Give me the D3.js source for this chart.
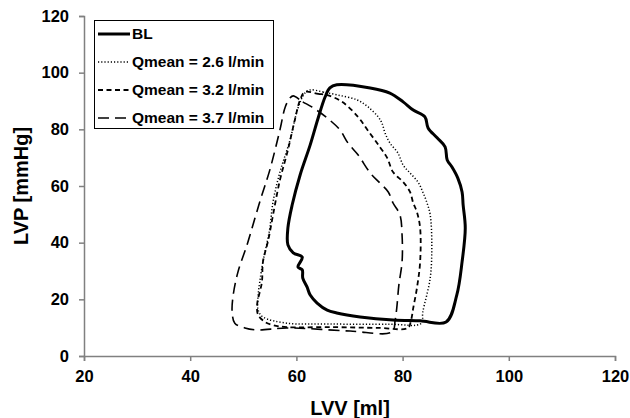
<!DOCTYPE html>
<html>
<head>
<meta charset="utf-8">
<script src="https://cdn.jsdelivr.net/npm/d3@7"></script>
<style>
  body { margin: 0; background: #fff; }
  text { font-family: "Liberation Sans", Arial, sans-serif; font-weight: bold; }
</style>
</head>
<body>
<svg width="630" height="418"></svg>
<script>
// LV pressure-volume loops, [volume ml, pressure mmHg]
const bl = [
  [88.2, 12.0], [90.2, 21.5], [91.2, 33.2], [91.8, 45.2], [91.4, 53.3], [91.2, 57.9],
  [90.4, 62.8], [89.3, 66.7], [88.4, 69.2], [88.0, 73.8], [86.5, 77.0], [84.8, 80.5],
  [84.2, 84.4], [82.0, 86.8], [80.1, 89.7], [77.6, 92.8], [73.9, 94.6], [67.6, 95.7],
  [66.3, 94.6], [65.4, 91.4], [64.1, 84.0], [62.6, 74.5], [60.7, 63.9], [59.2, 53.3],
  [58.4, 45.2], [58.4, 39.2], [59.4, 36.4], [61.1, 34.9], [60.3, 31.4], [61.1, 30.4],
  [61.2, 27.5], [62.0, 24.4], [62.6, 21.5], [63.9, 18.7], [65.8, 16.2], [67.6, 15.2],
  [72.0, 13.8], [78.2, 12.7], [83.3, 12.4]
];
const q26 = [
  [62.6, 93.9], [65.0, 93.2], [67.8, 92.1], [71.4, 90.4], [73.5, 87.9], [75.4, 84.4],
  [76.1, 82.2], [76.7, 78.7], [77.6, 75.2], [79.1, 71.7], [80.1, 67.4], [81.4, 64.6],
  [82.9, 61.4], [83.8, 57.9], [84.6, 54.0], [85.2, 49.8], [85.5, 39.2], [85.2, 27.5],
  [83.8, 15.5], [83.5, 11.5], [77.6, 11.2], [66.3, 11.3], [58.2, 11.6], [53.7, 13.8],
  [52.8, 16.2], [52.8, 21.5], [53.1, 26.1], [53.7, 33.2], [54.5, 40.2], [55.0, 45.2],
  [55.6, 54.4], [56.9, 64.9], [58.8, 76.2], [60.3, 87.5], [61.6, 92.8]
];
const q32 = [
  [61.6, 93.2], [64.1, 92.5], [65.8, 92.1], [68.6, 89.7], [71.6, 84.4], [73.5, 79.5],
  [75.7, 73.8], [77.1, 69.9], [78.2, 64.9], [80.1, 61.4], [81.4, 57.9], [82.0, 54.0],
  [82.7, 50.8], [83.3, 45.2], [83.3, 33.2], [82.7, 24.0], [82.0, 16.9], [81.6, 12.7],
  [81.0, 9.9], [75.7, 9.9], [66.3, 10.2], [58.2, 10.2], [55.6, 10.9], [54.1, 12.0],
  [52.8, 14.5], [52.6, 18.0], [53.5, 26.1], [53.7, 33.2], [54.7, 40.9], [55.6, 49.8],
  [56.9, 62.1], [58.4, 72.7], [59.7, 83.3], [60.7, 90.4]
];
const q37 = [
  [59.4, 91.8], [61.2, 89.7], [62.9, 87.9], [65.8, 84.0], [68.2, 79.8], [69.7, 75.2],
  [71.6, 71.0], [73.9, 64.6], [75.7, 61.1], [77.3, 57.9], [78.2, 54.0], [79.5, 49.8],
  [79.9, 42.7], [79.9, 33.2], [79.3, 25.1], [78.9, 16.9], [78.6, 12.7], [78.0, 8.5],
  [70.1, 8.8], [58.2, 9.9], [52.6, 9.2], [50.3, 9.9], [48.4, 11.6], [47.9, 15.5],
  [48.1, 21.5], [49.0, 29.7], [50.7, 39.2], [52.2, 48.7], [53.5, 56.8], [55.0, 65.7],
  [56.9, 79.8], [57.9, 87.9], [58.8, 91.1]
];

const seriesNames = ["BL", "Qmean = 2.6 l/min", "Qmean = 3.2 l/min", "Qmean = 3.7 l/min"];
const seriesData = [bl, q26, q32, q37];
const xTicks = [20, 40, 60, 80, 100, 120];
const yTicks = [0, 20, 40, 60, 80, 100, 120];

const styles = [
  { width: 3, dash: null },
  { width: 1.5, dash: "1.2,2" },
  { width: 1.8, dash: "5,3.5" },
  { width: 1.6, dash: "11,6" }
];

const svg = d3.select("svg");
const x = d3.scaleLinear().domain([20, 120]).range([84, 615]);
const y = d3.scaleLinear().domain([0, 120]).range([356, 16]);

const line = d3.line()
  .x(d => x(d[0]))
  .y(d => y(d[1]))
  .curve(d3.curveCatmullRomClosed.alpha(0.5));

// axes
const xAxis = svg.append("g")
  .attr("transform", "translate(0,356)")
  .call(d3.axisBottom(x).tickValues(xTicks).tickSize(5).tickPadding(9));
const yAxis = svg.append("g")
  .attr("transform", "translate(84,0)")
  .call(d3.axisLeft(y).tickValues(yTicks).tickSize(5).tickPadding(10));
[xAxis, yAxis].forEach(g => {
  g.select(".domain").attr("stroke", "#808080").attr("stroke-width", 1.5);
  g.selectAll(".tick line").attr("stroke", "#808080").attr("stroke-width", 1.5);
  g.selectAll(".tick text").attr("font-size", 16.5).attr("fill", "#000")
    .attr("font-family", "'Liberation Sans', Arial, sans-serif").attr("font-weight", "bold");
});

svg.append("text")
  .attr("x", 350).attr("y", 415)
  .attr("text-anchor", "middle").attr("font-size", 20)
  .text("LVV [ml]");
svg.append("text")
  .attr("transform", "translate(28,186) rotate(-90)")
  .attr("text-anchor", "middle").attr("font-size", 20)
  .text("LVP [mmHg]");

// loops
svg.append("g").selectAll("path")
  .data(seriesData).enter()
  .append("path")
  .attr("d", line)
  .attr("fill", "none")
  .attr("stroke", "#000")
  .attr("stroke-linejoin", "round")
  .attr("stroke-width", (d, i) => styles[i].width)
  .attr("stroke-dasharray", (d, i) => styles[i].dash);

// legend
const legend = svg.append("g");
legend.append("rect")
  .attr("x", 94.5).attr("y", 20.5).attr("width", 179).attr("height", 108)
  .attr("fill", "#fff").attr("stroke", "#000").attr("stroke-width", 1);
const items = legend.selectAll("g.item")
  .data(seriesNames).enter()
  .append("g")
  .attr("transform", (d, i) => `translate(0,${34 + i * 28})`);
items.append("line")
  .attr("x1", 98).attr("x2", 130)
  .attr("stroke", "#000")
  .attr("stroke-width", (d, i) => styles[i].width)
  .attr("stroke-dasharray", (d, i) => styles[i].dash);
items.append("text")
  .attr("x", 132).attr("dy", "0.35em")
  .attr("font-size", 15.5)
  .text(d => d);
</script>
</body>
</html>
